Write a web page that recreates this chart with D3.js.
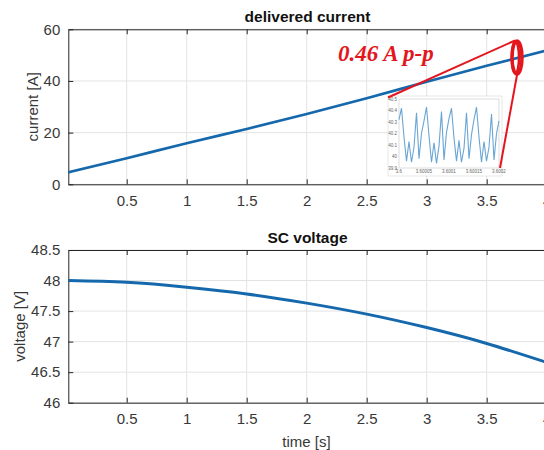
<!DOCTYPE html>
<html>
<head>
<meta charset="utf-8">
<script src="https://cdn.jsdelivr.net/npm/d3@7"></script>
<style>
  body { margin: 0; background: #fff; }
  svg { display: block; font-family: "Liberation Sans", Arial, sans-serif; }
</style>
</head>
<body>
<script>
// data
let times = [0, 0.5, 1, 1.5, 2, 2.5, 3, 3.5, 4];
let currentA = [4.5, 10.1, 15.9, 21.4, 27.2, 33.3, 39.7, 45.9, 51.8];
let voltageV = [48.0, 47.97, 47.89, 47.78, 47.63, 47.45, 47.23, 46.97, 46.66];

let xTicks = [0.5, 1, 1.5, 2, 2.5, 3, 3.5, 4];
let currentTicks = [0, 20, 40, 60];
let voltageTicks = [46, 46.5, 47, 47.5, 48, 48.5];

// zoomed ripple (inset)
let insetT0 = 3.6;
let insetDt = 0.000005;
let insetI = [40.32, 40.42, 40.17, 39.96, 40.13, 39.95, 40.08, 40.38, 39.98, 40.20,
              40.31, 40.43, 40.18, 39.95, 40.12, 39.94, 40.09, 40.39, 39.97, 40.21,
              40.33, 40.42, 40.16, 39.96, 40.14, 39.95, 40.07, 40.38, 39.98, 40.19,
              40.32, 40.43, 40.17, 39.95, 40.13, 39.96, 40.08, 40.37, 39.97, 40.20, 40.31];
let insetXTicks = [3.6, 3.60005, 3.6001, 3.60015, 3.6002];
let insetXLabels = ["3.6", "3.60005", "3.6001", "3.60015", "3.6002"];
let insetYTicks = [39.9, 40, 40.1, 40.2, 40.3, 40.4, 40.5];

let W = 544, H = 450;
let svg = d3.select("body").append("svg").attr("width", W).attr("height", H);

let left = 68.3, right = 546.7;
let x = d3.scaleLinear([0.0133, 4], [left, right]);
let axColor = "#262626", txtColor = "#383838";
let blue = "#1668ad";

svg.append("clipPath").attr("id", "clipTop")
   .append("rect").attr("x", left).attr("y", 29.3).attr("width", right - left).attr("height", 155);
svg.append("clipPath").attr("id", "clipBot")
   .append("rect").attr("x", left).attr("y", 250).attr("width", right - left).attr("height", 152.7);

function panel(yScale, yTicks, yFmt, title, ylabel, ylabelX, clipId) {
    let [y0, y1] = yScale.range();
    let g = svg.append("g");
    // grid
    g.append("g").selectAll("line").data(xTicks).join("line")
        .attr("x1", d => x(d)).attr("x2", d => x(d))
        .attr("y1", y1).attr("y2", y0)
        .attr("stroke", "#e3e3e3").attr("stroke-width", 1);
    g.append("g").selectAll("line").data(yTicks).join("line")
        .attr("x1", left).attr("x2", right)
        .attr("y1", d => yScale(d)).attr("y2", d => yScale(d))
        .attr("stroke", "#e3e3e3").attr("stroke-width", 1);
    // axes (ticks inward)
    g.append("g").attr("transform", `translate(0,${y0})`)
        .call(d3.axisBottom(x).tickValues(xTicks).tickSizeInner(-5).tickSizeOuter(0).tickPadding(11).tickFormat(d3.format("")))
        .call(a => a.select(".domain").attr("stroke", axColor))
        .call(a => a.selectAll(".tick line").attr("stroke", axColor))
        .call(a => a.selectAll("text").attr("fill", txtColor).style("font-size", "15px"));
    g.append("g").attr("transform", `translate(0,${y1})`)
        .call(d3.axisTop(x).tickValues(xTicks).tickSizeInner(-5).tickSizeOuter(0).tickFormat(""))
        .call(a => a.select(".domain").attr("stroke", axColor))
        .call(a => a.selectAll(".tick line").attr("stroke", axColor));
    g.append("g").attr("transform", `translate(${left},0)`)
        .call(d3.axisLeft(yScale).tickValues(yTicks).tickSizeInner(-5).tickSizeOuter(0).tickPadding(8).tickFormat(yFmt))
        .call(a => a.select(".domain").attr("stroke", axColor))
        .call(a => a.selectAll(".tick line").attr("stroke", axColor))
        .call(a => a.selectAll("text").attr("fill", txtColor).style("font-size", "15px"));
    g.append("text").attr("x", (left + right) / 2).attr("y", y1 - 7)
        .attr("text-anchor", "middle").attr("fill", "#111")
        .style("font-size", "15.5px").style("font-weight", "bold").text(title);
    g.append("text").attr("transform", `translate(${ylabelX},${(y0 + y1) / 2}) rotate(-90)`)
        .attr("text-anchor", "middle").attr("fill", txtColor)
        .style("font-size", "15px").text(ylabel);
    return g.append("g").attr("clip-path", `url(#${clipId})`);
}

// top: delivered current
let yI = d3.scaleLinear([0, 60], [184.3, 29.3]);
let topPlot = panel(yI, currentTicks, d3.format(""), "delivered current", "current [A]", 38, "clipTop");
topPlot.append("path")
    .datum(d3.zip(times, currentA))
    .attr("fill", "none").attr("stroke", blue).attr("stroke-width", 2.7)
    .attr("d", d3.line().x(d => x(d[0])).y(d => yI(d[1])).curve(d3.curveNatural));

// bottom: SC voltage
let yV = d3.scaleLinear([46, 48.5], [402.7, 250]);
let botPlot = panel(yV, voltageTicks, d3.format(""), "SC voltage", "voltage [V]", 25, "clipBot");
botPlot.append("path")
    .datum(d3.zip(times, voltageV))
    .attr("fill", "none").attr("stroke", blue).attr("stroke-width", 3)
    .attr("d", d3.line().x(d => x(d[0])).y(d => yV(d[1])).curve(d3.curveNatural));

svg.append("text").attr("x", (left + right) / 2 - 1).attr("y", 447)
   .attr("text-anchor", "middle").attr("fill", txtColor).style("font-size", "15px").text("time [s]");

// inset with zoomed ripple
let ins = svg.append("g");
ins.append("rect").attr("x", 388).attr("y", 96).attr("width", 114).attr("height", 80)
   .attr("fill", "#fff").attr("stroke", "#d8d8d8").attr("stroke-width", 0.6);
let ix = d3.scaleLinear([3.6, 3.6002], [399, 499]);
let iy = d3.scaleLinear([39.9, 40.5], [168, 99]);
ins.append("rect").attr("x", 399).attr("y", 99).attr("width", 100).attr("height", 69)
   .attr("fill", "none").attr("stroke", "#bbb").attr("stroke-width", 0.5);
ins.selectAll(".iyl").data(insetYTicks).join("text").attr("class", "iyl")
   .attr("x", 397).attr("y", d => iy(d) + 1.5).attr("text-anchor", "end")
   .attr("fill", "#666").style("font-size", "4.5px").text(d => d);
ins.selectAll(".ixl").data(insetXTicks).join("text").attr("class", "ixl")
   .attr("x", d => ix(d)).attr("y", 173).attr("text-anchor", "middle")
   .attr("fill", "#666").style("font-size", "4.5px").text((d, i) => insetXLabels[i]);
ins.append("path")
   .datum(insetI.map((v, i) => [insetT0 + i * insetDt, v]))
   .attr("fill", "none").attr("stroke", "#6aa6d4").attr("stroke-width", 1.1)
   .attr("d", d3.line().x(d => ix(d[0])).y(d => iy(d[1])));

// red annotation
let red = "#e4161d";
let ann = svg.append("g");
ann.append("line").attr("x1", 388).attr("y1", 97.5).attr("x2", 515).attr("y2", 40.5)
   .attr("stroke", red).attr("stroke-width", 2);
ann.append("line").attr("x1", 500).attr("y1", 168).attr("x2", 517).attr("y2", 75)
   .attr("stroke", red).attr("stroke-width", 2);
ann.append("ellipse").attr("cx", 517).attr("cy", 57.5).attr("rx", 5).attr("ry", 16.5)
   .attr("fill", "none").attr("stroke", red).attr("stroke-width", 3.5);
ann.append("ellipse").attr("cx", 515.5).attr("cy", 57.5).attr("rx", 3.5).attr("ry", 15.5)
   .attr("fill", "none").attr("stroke", red).attr("stroke-width", 2.5);
ann.append("text").attr("x", 338).attr("y", 61)
   .attr("fill", red).style("font-family", "'Liberation Serif', 'Times New Roman', serif")
   .style("font-size", "23px").style("font-weight", "bold").style("font-style", "italic")
   .text("0.46 A p-p");
</script>
</body>
</html>
